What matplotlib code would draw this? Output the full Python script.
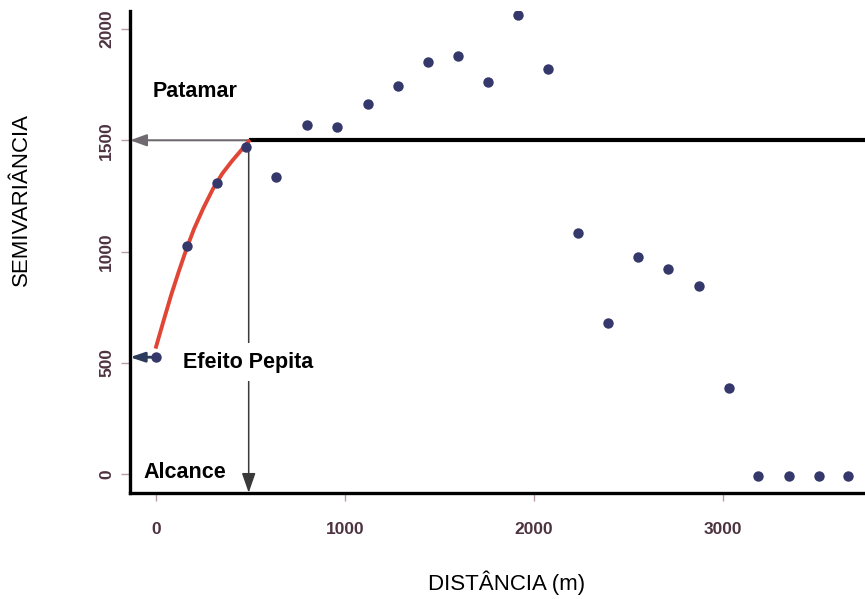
import matplotlib
matplotlib.use("Agg")
import matplotlib.pyplot as plt

plt.rcParams['font.family'] = ['Liberation Sans', 'DejaVu Sans']

# ---- data ----
distance = [0, 162, 321, 476, 635, 797, 956, 1120, 1279, 1439, 1599, 1758,
            1917, 2076, 2234, 2393, 2552, 2711, 2873, 3032, 3187, 3349, 3506, 3663]
semivar = [524, 1026, 1309, 1471, 1333, 1569, 1558, 1662, 1745, 1850, 1879, 1763,
           2063, 1819, 1082, 680, 974, 920, 846, 385, -10, -10, -10, -10]

# fitted model curve
model_h = [0, 40, 80, 120, 160, 200, 250, 300, 350, 400, 450, 490]
model_g = [572, 690, 805, 910, 1010, 1100, 1195, 1280, 1350, 1405, 1455, 1495]

nugget = 525
sill = 1500
range_ = 490

xticks = [0, 1000, 2000, 3000]
yticks = [0, 500, 1000, 1500, 2000]

xlim = (-138, 3751)
ylim = (-84, 2081)

fig = plt.figure(figsize=(8.65, 5.99), dpi=100)
ax = fig.add_axes([0.15029, 0.17746, 0.84971, 0.80417])
ax.set_xlim(*xlim)
ax.set_ylim(*ylim)

for s in ['top', 'right']:
    ax.spines[s].set_visible(False)
for s in ['left', 'bottom']:
    ax.spines[s].set_linewidth(2.4)
    ax.spines[s].set_color('black')

tick_col = '#4d3340'
ax.set_xticks(xticks)
ax.set_yticks(yticks)
ax.set_xticklabels([str(v) for v in xticks], fontsize=12.5, fontweight='bold', color=tick_col)
ax.set_yticklabels([str(v) for v in yticks], fontsize=12.5, fontweight='bold', color=tick_col,
                   rotation=90, va='center')
ax.tick_params(axis='x', length=6, width=1.0, color='#b89aa8', pad=15)
ax.tick_params(axis='y', length=6.5, width=1.0, color='#b89aa8', pad=5)

# sill line
ax.plot([range_, xlim[1]], [sill, sill], color='black', lw=3, solid_capstyle='butt', zorder=3)

# model curve
ax.plot(model_h, model_g, color='#e04535', lw=2.8, zorder=4)

# arrows
ax.annotate('', xy=(xlim[0], sill), xytext=(range_, sill),
            arrowprops=dict(arrowstyle='-|>,head_length=1.0,head_width=0.36', color='#6f6a70',
                            lw=1.5, mutation_scale=10, shrinkA=0, shrinkB=0), zorder=3)
ax.annotate('', xy=(range_, ylim[0]), xytext=(range_, sill),
            arrowprops=dict(arrowstyle='-|>,head_length=0.6,head_width=0.21', color='#3a3a3a',
                            lw=1.1, mutation_scale=20, shrinkA=0, shrinkB=0), zorder=3)
ax.annotate('', xy=(xlim[0], nugget), xytext=(0, nugget),
            arrowprops=dict(arrowstyle='-|>,head_length=0.86,head_width=0.29', color='#2a3a5a',
                            lw=2, mutation_scale=10, shrinkA=0, shrinkB=0), zorder=5)

# points
ax.plot(distance, semivar, 'o', color='#34386a', markersize=7.5, markeredgewidth=0, zorder=6)

# annotations
ax.text(-16, 1696, 'Patamar', fontsize=15.5, fontweight='bold', va='baseline', ha='left')
ax.text(143, 478, 'Efeito Pepita', fontsize=15.5, fontweight='bold', va='baseline', ha='left',
        bbox=dict(facecolor='white', edgecolor='none', pad=6), zorder=7)
ax.text(-69, -19, 'Alcance', fontsize=15.5, fontweight='bold', va='baseline', ha='left', zorder=7)

fig.text(21 / 865, 1 - 200 / 599, 'SEMIVARIÂNCIA', rotation=90, fontsize=16,
         ha='center', va='center')
fig.text(506.7 / 865, 1 - 583 / 599, 'DISTÂNCIA (m)', fontsize=16, ha='center', va='center')

fig.savefig('out.png', dpi=100)
